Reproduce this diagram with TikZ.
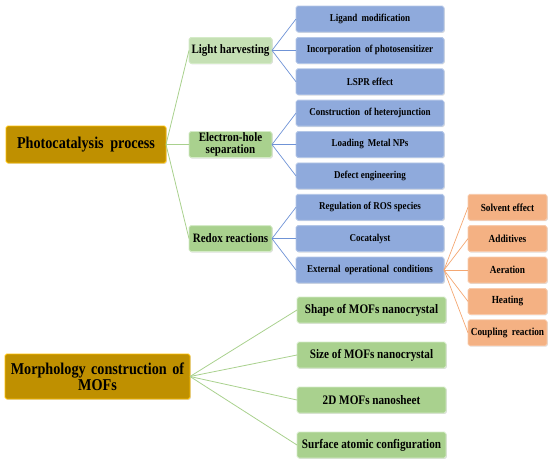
\documentclass[tikz,border=0pt]{standalone}
\usepackage{fontspec}
\setmainfont{Liberation Serif}[FakeStretch=0.86]
\usetikzlibrary{shadows}
\definecolor{goldF}{HTML}{BF9000}
\definecolor{goldD}{HTML}{FFC000}
\definecolor{blueF}{HTML}{8FAADC}
\definecolor{blueD}{HTML}{B4C7E7}
\definecolor{blueL}{HTML}{6F93D6}
\definecolor{greenF}{HTML}{A9D18E}
\definecolor{greenL}{HTML}{C5E0B4}
\definecolor{greenD}{HTML}{D5EBC8}
\definecolor{orangeF}{HTML}{F4B183}
\definecolor{orangeD}{HTML}{F8CBAD}
\definecolor{orangeL}{HTML}{F4A772}
\tikzset{
  box/.style={rectangle, rounded corners=1.8pt, anchor=north west, inner sep=1pt, outer sep=0pt,
    align=center, font=\bfseries, line width=0.8pt,
    drop shadow={shadow xshift=0.9pt, shadow yshift=-0.9pt, opacity=0.25}},
  mainbox/.style={box, fill=goldF, draw=goldD, font=\bfseries\fontsize{16.5}{16}\selectfont},
  gbox/.style={box, fill=greenF, draw=greenD, minimum width=83pt, minimum height=26pt, font=\bfseries\fontsize{12.8}{12.5}\selectfont},
  bbox/.style={box, fill=blueF, draw=blueD, minimum width=148pt, minimum height=26pt, font=\bfseries\fontsize{10.5}{11}\selectfont},
  obox/.style={box, fill=orangeF, draw=orangeD, minimum width=79pt, minimum height=26pt, font=\bfseries\fontsize{10.8}{11}\selectfont},
  lbox/.style={box, fill=greenF, draw=greenD, minimum width=149pt, minimum height=26pt, font=\bfseries\fontsize{13}{13}\selectfont},
  gline/.style={draw=greenF, line width=0.8pt},
  bline/.style={draw=blueL, line width=0.7pt},
  oline/.style={draw=orangeL, line width=0.7pt},
}
\newcommand{\dsp}{\hspace{0.4em}}
\begin{document}
\begin{tikzpicture}[x=1pt,y=-1pt]
\useasboundingbox (0,0) rectangle (550,461);
% main boxes
\node[mainbox, minimum width=160pt, minimum height=37pt] (m1) at (6,126) {Photocatalysis\dsp process};
\node[mainbox, minimum width=185pt, minimum height=45pt, text width=180pt] (m2) at (5,354) {Morphology construction of\\MOFs};
% level 2
\node[gbox, fill=greenL] (g1) at (189,37.4) {Light harvesting};
\node[gbox] (g2) at (189,131.5) {Electron-hole\\separation};
\node[gbox] (g3) at (189,225.6) {Redox reactions};
% blue
\node[bbox] (b1) at (296,6) {Ligand\dsp modification};
\node[bbox] (b2) at (296,37.4) {Incorporation\dsp of photosensitizer};
\node[bbox] (b3) at (296,68.75) {LSPR effect};
\node[bbox] (b4) at (296,100.1) {Construction\dsp of heterojunction};
\node[bbox] (b5) at (296,131.5) {Loading\dsp Metal NPs};
\node[bbox] (b6) at (296,162.9) {Defect engineering};
\node[bbox] (b7) at (296,194.25) {Regulation of ROS species};
\node[bbox] (b8) at (296,225.6) {Cocatalyst};
\node[bbox] (b9) at (296,257) {External\dsp operational\dsp conditions};
% orange
\node[obox] (o1) at (468,194.25) {Solvent effect};
\node[obox] (o2) at (468,225.6) {Additives};
\node[obox] (o3) at (468,257) {Aeration};
\node[obox] (o4) at (468,288.4) {Heating};
\node[obox] (o5) at (468,319.8) {Coupling\dsp reaction};
% lower green
\node[lbox] (l1) at (297,297) {Shape of MOFs nanocrystal};
\node[lbox] (l2) at (297,342) {Size of MOFs nanocrystal};
\node[lbox] (l3) at (297,387) {2D MOFs nanosheet};
\node[lbox] (l4) at (297,432) {Surface atomic configuration};
% connectors
\foreach \g in {g1,g2,g3} \draw[gline] (m1.east) -- (\g.west);
\foreach \b in {b1,b2,b3} \draw[bline] (g1.east) -- (\b.west);
\foreach \b in {b4,b5,b6} \draw[bline] (g2.east) -- (\b.west);
\foreach \b in {b7,b8,b9} \draw[bline] (g3.east) -- (\b.west);
\foreach \o in {o1,o2,o3,o4,o5} \draw[oline] (b9.east) -- (\o.west);
\foreach \l in {l1,l2,l3,l4} \draw[gline] (m2.east) -- (\l.west);
\end{tikzpicture}
\end{document}
